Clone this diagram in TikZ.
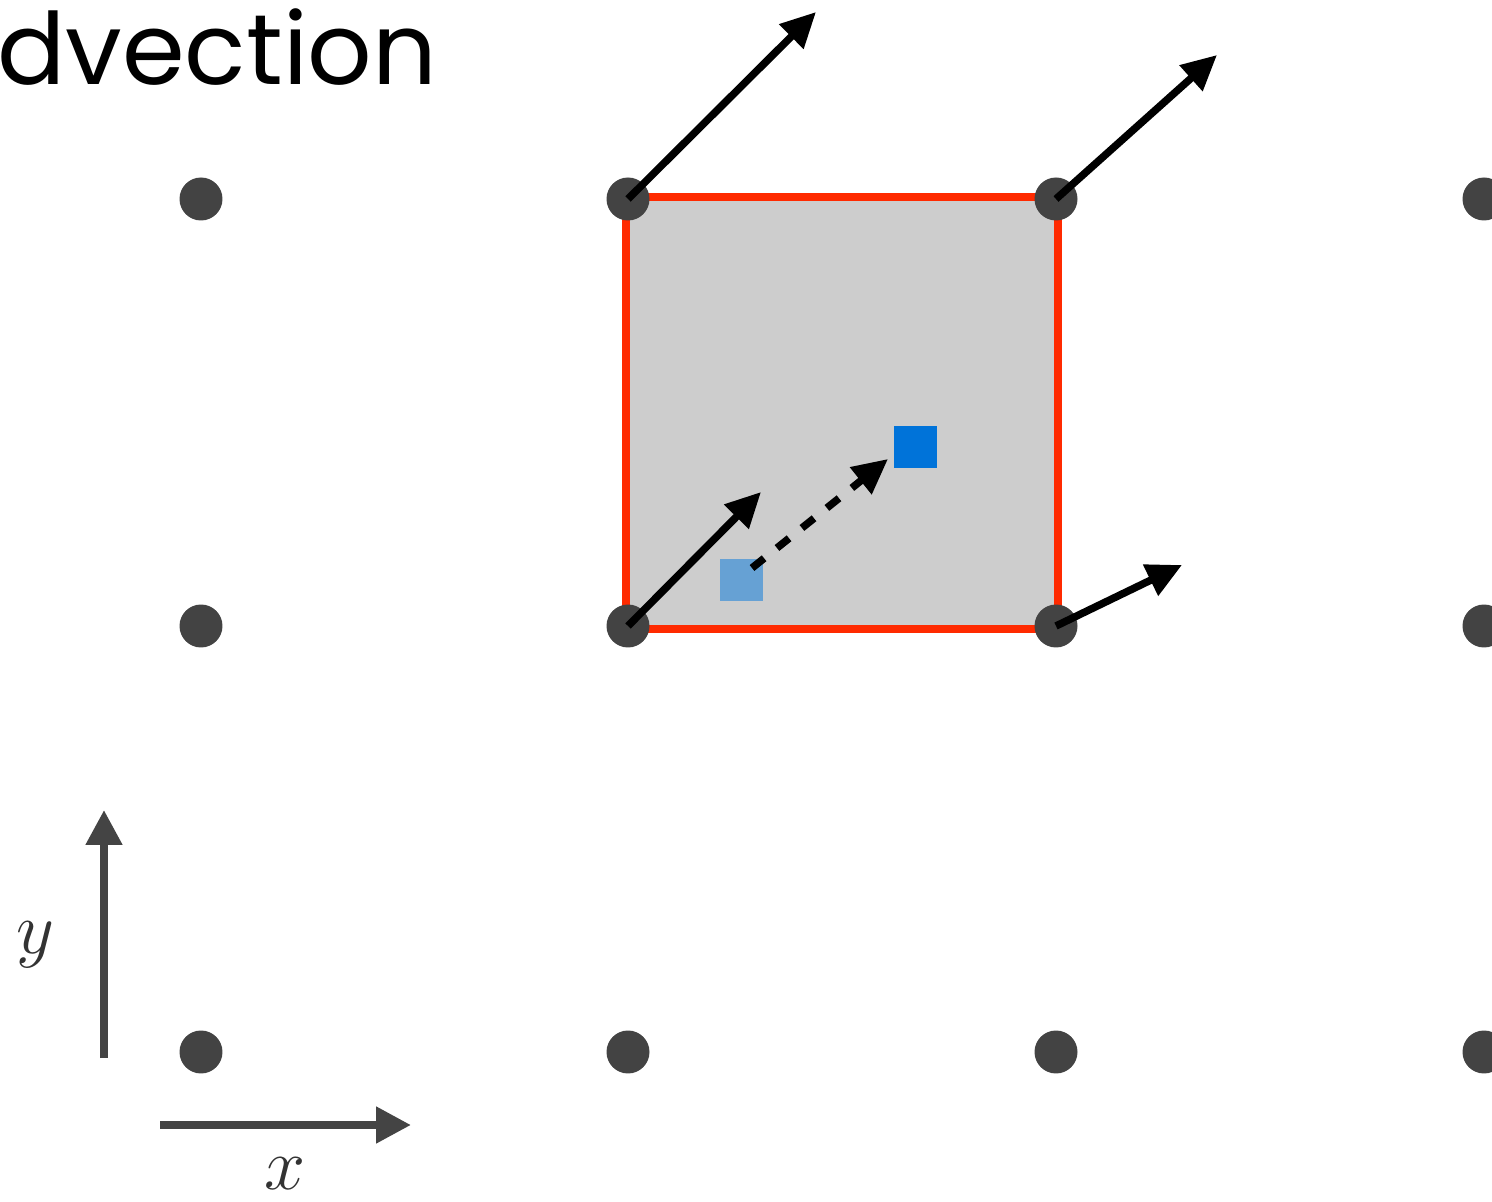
\RequirePackage{fix-cm}
\documentclass[tikz,border=0pt]{standalone}
\usepackage{fontspec}
\newfontfamily\titlefont{Poppins}
\usetikzlibrary{arrows.meta}
\definecolor{dotgray}{HTML}{434343}
\definecolor{cellgray}{HTML}{CDCDCD}
\definecolor{cellred}{HTML}{FF2A00}
\definecolor{lightblue}{HTML}{66A1D4}
\definecolor{deepblue}{HTML}{0073D9}
\definecolor{axisgray}{HTML}{444444}
\definecolor{labelgray}{HTML}{333333}
\begin{document}
\begin{tikzpicture}[x=0.02cm,y=-0.02cm,
  dot/.style={circle,fill=dotgray,minimum size=0.86cm,inner sep=0pt},
  vec/.style={line width=0.15cm,-{Triangle[length=0.7cm,width=0.66cm]}},
  dashvec/.style={vec,dash pattern=on 0.31cm off 0.33cm},
  axisarrow/.style={line width=0.16cm,draw=axisgray,-{Triangle[length=0.7cm,width=0.7cm]}},
  sample/.style={rectangle,minimum size=0.86cm,inner sep=0pt},
  axislabel/.style={text=labelgray,font=\fontsize{42}{50}\selectfont,inner sep=0pt}]
\useasboundingbox (0,0) rectangle (1492,1202);
\clip (0,0) rectangle (1492,1202);
% title
\node[anchor=base west,inner sep=0pt,font=\titlefont\fontsize{54}{60}\selectfont] (title) at (-3,85) {\scalebox{1.065}[1.05]{dvection}};
% cell
\fill[cellgray] (626,197) rectangle (1058,629);
\draw[cellred,line width=0.15cm] (626,197) rectangle (1058,629);
% grid dots
\foreach \c/\x in {1/201,2/628,3/1056,4/1484}{
  \foreach \r/\y in {1/199,2/626,3/1052}{
    \node[dot] (d\r\c) at (\x,\y) {};
  }
}
% samples
\node[sample,fill=lightblue] (old) at (741,580) {};
\node[sample,fill=deepblue] (new) at (915,447) {};
% velocity tips
\coordinate (t12) at (816,12);
\coordinate (t13) at (1217,55);
\coordinate (t22) at (761,492);
\coordinate (t23) at (1182,565);
\draw[vec] (d12.center) -- (t12);
\draw[vec] (d13.center) -- (t13);
\draw[vec] (d22.center) -- (t22);
\draw[vec] (d23.center) -- (t23);
% back-trace
\coordinate (bs) at (752,568);
\coordinate (be) at (888,459);
\draw[dashvec] (bs) -- (be);
% axes
\coordinate (yo) at (104,1058);
\coordinate (yt) at (104,810);
\coordinate (xo) at (160,1125);
\coordinate (xt) at (411,1125);
\draw[axisarrow] (yo) -- (yt);
\draw[axisarrow] (xo) -- (xt);
\node[axislabel] (ylab) at (35,945) {$y$};
\node[axislabel] (xlab) at (285,1174) {$x$};
\end{tikzpicture}
\end{document}
